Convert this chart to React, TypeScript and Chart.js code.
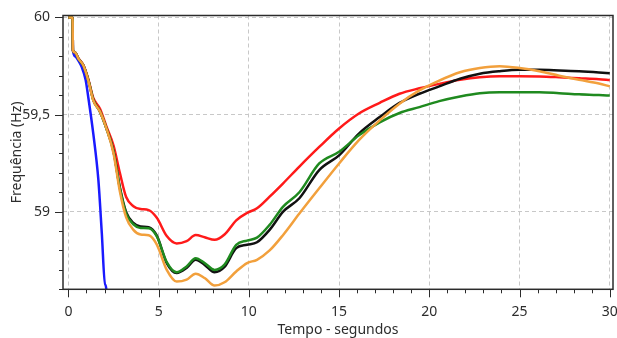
import React, { useEffect, useRef } from "react";
import { Chart, registerables } from "chart.js";
Chart.register(...registerables);

// Shared time axis (seconds) for the four main series
const times = [0, 0.23, 0.25, 0.37, 0.55, 0.83, 1.11, 1.38, 1.75, 2.1, 2.5, 2.85, 3.2, 3.6, 4.0, 4.45, 4.9, 5.45, 6.0, 6.55, 7.05, 7.55, 8.1, 8.65, 9.3, 9.9, 10.45, 11.15, 11.9, 12.8, 13.9, 15.0, 16.1, 17.25, 18.35, 19.45, 20.55, 21.7, 22.8, 23.9, 25.0, 26.1, 27.2, 28.3, 29.4, 30];

const redValues = [60, 60, 59.83, 59.82, 59.79, 59.755, 59.68, 59.585, 59.53, 59.44, 59.34, 59.2, 59.075, 59.028, 59.013, 59.008, 58.968, 58.874, 58.836, 58.848, 58.879, 58.868, 58.855, 58.882, 58.955, 58.993, 59.017, 59.077, 59.146, 59.232, 59.333, 59.428, 59.505, 59.56, 59.607, 59.635, 59.658, 59.679, 59.692, 59.697, 59.697, 59.696, 59.692, 59.687, 59.682, 59.678];

const greenValues = [60, 60, 59.83, 59.82, 59.788, 59.752, 59.675, 59.575, 59.515, 59.43, 59.31, 59.12, 58.99, 58.935, 58.916, 58.914, 58.872, 58.74, 58.688, 58.718, 58.76, 58.735, 58.70, 58.727, 58.829, 58.851, 58.866, 58.932, 59.026, 59.10, 59.248, 59.308, 59.393, 59.46, 59.508, 59.538, 59.569, 59.593, 59.61, 59.615, 59.615, 59.615, 59.61, 59.604, 59.6, 59.598];

const blackValues = [60, 60, 59.83, 59.82, 59.788, 59.752, 59.675, 59.575, 59.515, 59.43, 59.31, 59.125, 58.997, 58.942, 58.923, 58.92, 58.876, 58.735, 58.684, 58.71, 58.752, 58.726, 58.688, 58.715, 58.812, 58.829, 58.842, 58.906, 59.0, 59.069, 59.214, 59.29, 59.402, 59.487, 59.56, 59.607, 59.645, 59.684, 59.71, 59.723, 59.73, 59.73, 59.727, 59.723, 59.717, 59.713];

const orangeValues = [60, 60, 59.83, 59.82, 59.788, 59.752, 59.672, 59.572, 59.515, 59.43, 59.30, 59.105, 58.97, 58.906, 58.882, 58.878, 58.83, 58.70, 58.64, 58.65, 58.68, 58.658, 58.619, 58.636, 58.692, 58.735, 58.752, 58.80, 58.88, 58.99, 59.12, 59.248, 59.368, 59.47, 59.556, 59.624, 59.675, 59.718, 59.74, 59.749, 59.74, 59.723, 59.70, 59.679, 59.66, 59.645];

// Blue series (falls off the bottom of the chart)
const blueTimes = [0, 0.23, 0.25, 0.37, 0.55, 0.74, 0.95, 1.1, 1.38, 1.66, 1.85, 2.03, 2.1, 2.12];
const blueValues = [60, 60, 59.83, 59.80, 59.778, 59.744, 59.68, 59.59, 59.40, 59.163, 58.89, 58.624, 58.60, 57.5];

// Axis ticks
const xTickValues = [0, 5, 10, 15, 20, 25, 30];
const yTickValues = [59, 59.5, 60];
const yTickLabels = ["59", "59,5", "60"];

const FONT = { family: "'Noto Sans', sans-serif", size: 14 };
const TEXT_COLOR = "#2d2d2d";

export default function App() {
  const ref = useRef<HTMLCanvasElement>(null);

  useEffect(() => {
    document.body.style.margin = "0";
    const toPts = (xs: number[], ys: number[]) => xs.map((x, i) => ({ x, y: ys[i] }));

    const framePlugin = {
      id: "frame",
      afterDraw(chart: any) {
        const { ctx, chartArea: a, scales } = chart;
        const x = scales.x;
        const y = scales.y;
        ctx.save();
        ctx.strokeStyle = "#2b2b2b";
        ctx.lineWidth = 1;
        ctx.beginPath();
        for (let t = Math.ceil(x.min); t <= x.max + 1e-9; t += 1) {
          const px = Math.round(x.getPixelForValue(t)) + 0.5;
          const len = xTickValues.includes(t) ? 8 : 4;
          ctx.moveTo(px, a.bottom);
          ctx.lineTo(px, a.bottom + len);
        }
        for (let k = Math.ceil(y.min * 10 - 1e-6); k <= Math.floor(y.max * 10 + 1e-6); k++) {
          const py = Math.round(y.getPixelForValue(k / 10)) + 0.5;
          const len = k % 5 === 0 ? 8 : 4;
          ctx.moveTo(a.left, py);
          ctx.lineTo(a.left - len, py);
        }
        ctx.stroke();
        ctx.lineWidth = 1.5;
        ctx.strokeRect(a.left, a.top, a.right - a.left, a.bottom - a.top);
        ctx.restore();
      },
    };

    const mk = (label: string, xs: number[], ys: number[], color: string) => ({
      label,
      data: toPts(xs, ys),
      borderColor: color,
      backgroundColor: color,
      borderWidth: 2.5,
      pointRadius: 0,
      fill: false,
      cubicInterpolationMode: "monotone" as const,
    });

    const chart = new Chart(ref.current as HTMLCanvasElement, {
      type: "line",
      data: {
        datasets: [
          mk("Laranja", times, orangeValues, "#f2a03c"),
          mk("Verde", times, greenValues, "#1f8a1f"),
          mk("Preto", times, blackValues, "#111111"),
          mk("Vermelho", times, redValues, "#ff1a1a"),
          mk("Azul", blueTimes, blueValues, "#1a1aff"),
        ],
      },
      options: {
        animation: false,
        responsive: false,
        devicePixelRatio: 1,
        layout: { padding: { top: 15.5, right: 4, left: 0, bottom: 0 } },
        plugins: { legend: { display: false }, tooltip: { enabled: false } },
        scales: {
          x: {
            type: "linear",
            min: -0.3,
            max: 30.18,
            afterBuildTicks: (s: any) => {
              s.ticks = xTickValues.map((v) => ({ value: v }));
            },
            afterFit: (s: any) => {
              s.height = 48.7;
              s.paddingLeft = 0;
              s.paddingRight = 0;
            },
            ticks: {
              padding: 14,
              font: FONT,
              color: TEXT_COLOR,
              autoSkip: false,
              maxRotation: 0,
              callback: (v: any) => String(v),
            },
            grid: { color: "#c8c8c8", drawTicks: false, lineWidth: 1 },
            border: { display: false, dash: [4, 3] },
            title: {
              display: true,
              text: "Tempo - segundos",
              font: FONT,
              color: TEXT_COLOR,
              padding: { top: 0, bottom: 0 },
            },
          },
          y: {
            type: "linear",
            min: 58.6,
            max: 60.01,
            afterBuildTicks: (s: any) => {
              s.ticks = yTickValues.map((v) => ({ value: v }));
            },
            afterFit: (s: any) => {
              s.width = 63;
              s.paddingTop = 0;
              s.paddingBottom = 0;
            },
            ticks: {
              padding: 13,
              font: FONT,
              color: TEXT_COLOR,
              autoSkip: false,
              callback: (v: any) => {
                const i = yTickValues.indexOf(v);
                return i >= 0 ? yTickLabels[i] : "";
              },
            },
            grid: { color: "#c8c8c8", drawTicks: false, lineWidth: 1 },
            border: { display: false, dash: [4, 3] },
            title: {
              display: true,
              text: "Frequência (Hz)",
              font: FONT,
              color: TEXT_COLOR,
              padding: { top: 8.6, bottom: 0 },
            },
          },
        },
      },
      plugins: [framePlugin],
    });
    return () => chart.destroy();
  }, []);

  return <canvas ref={ref} width={617} height={338} style={{ display: "block" }} />;
}
